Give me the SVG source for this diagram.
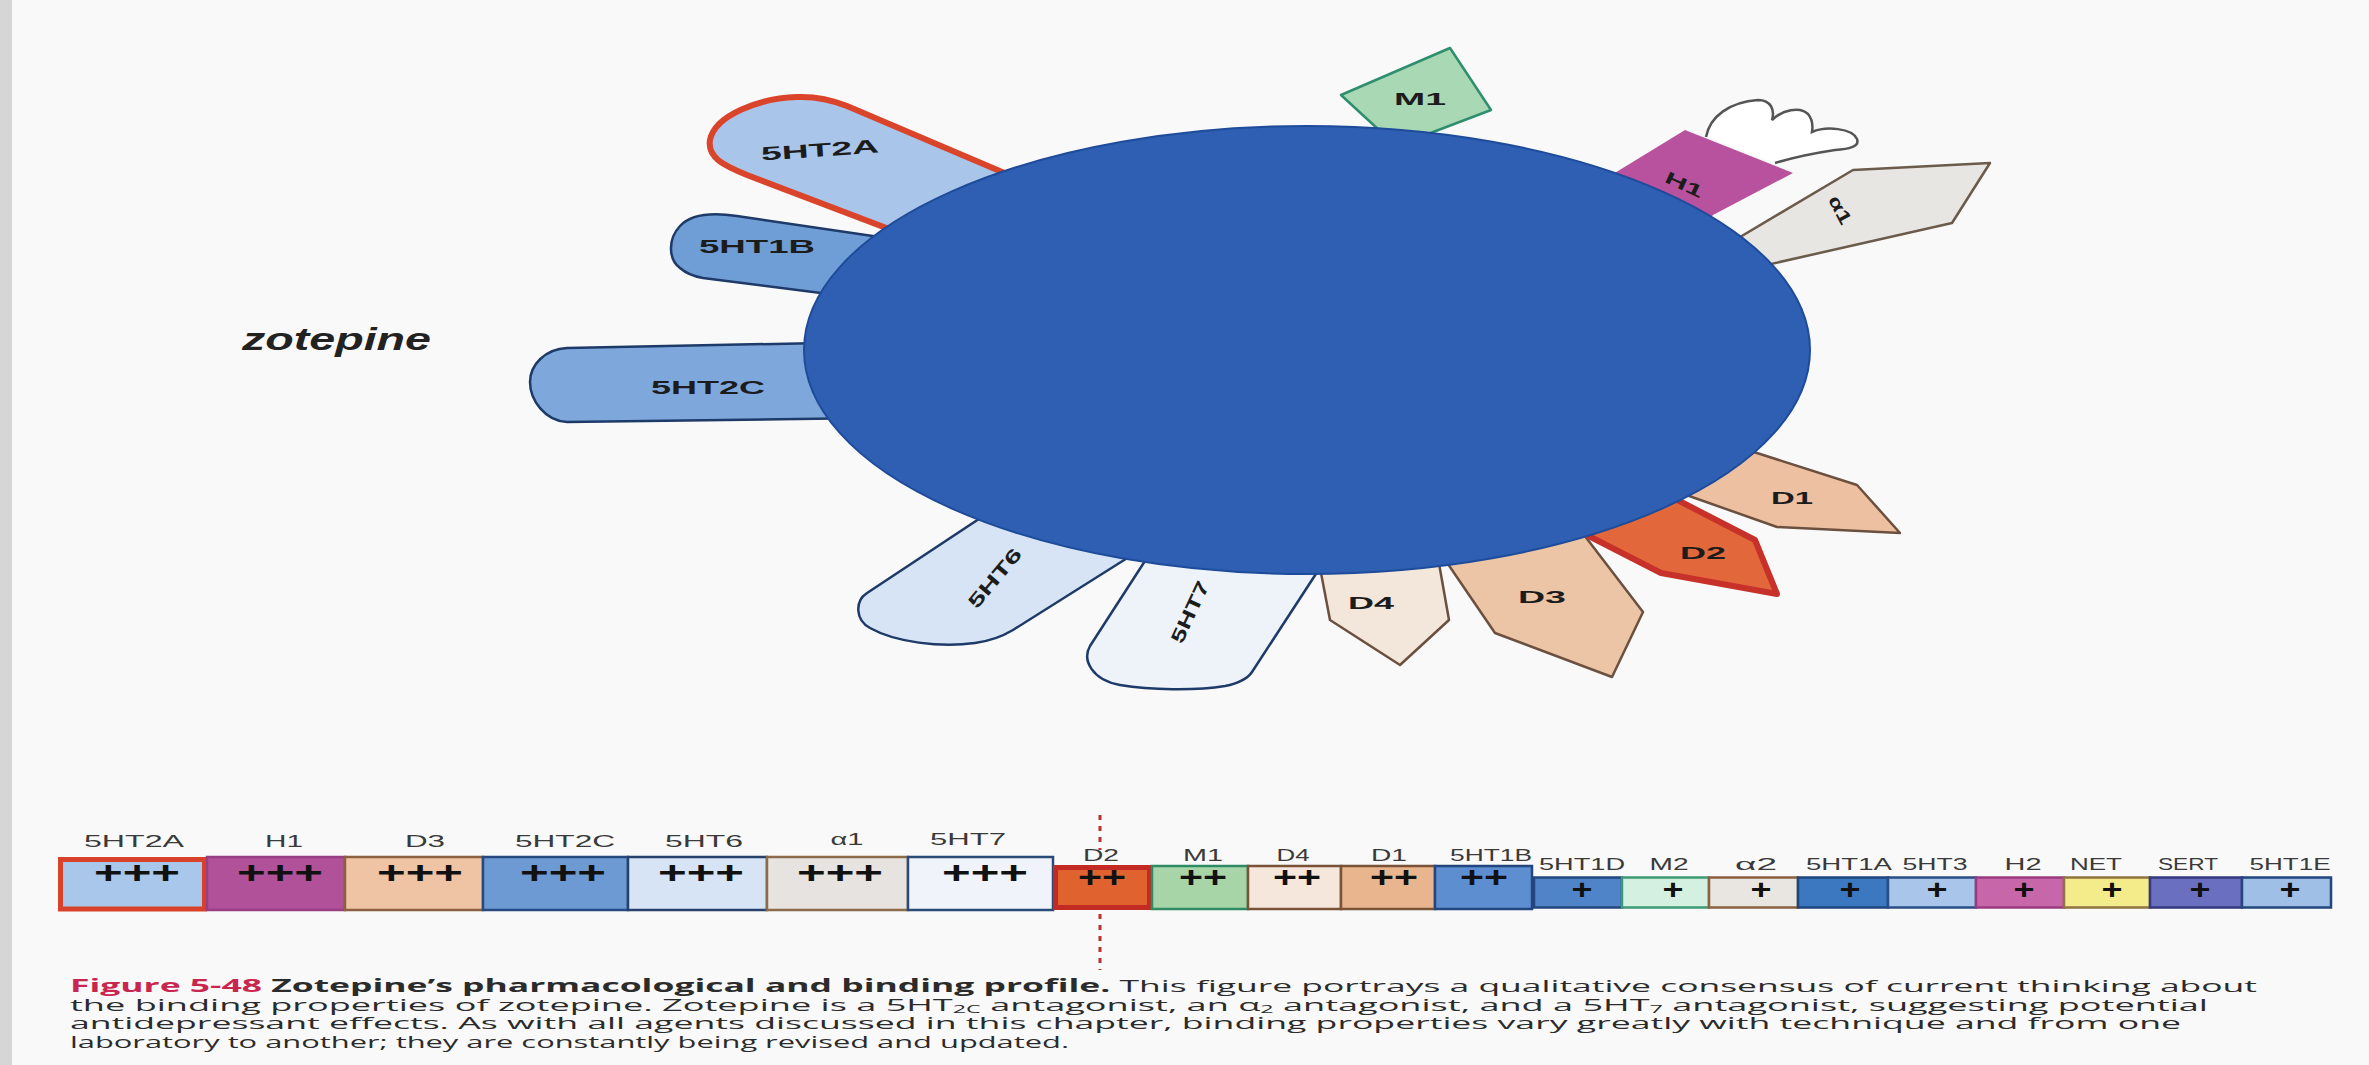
<svg xmlns="http://www.w3.org/2000/svg" width="2369" height="1065" viewBox="0 0 2369 1065">
  <style>
    .lab { font-family: "Liberation Sans", Arial, sans-serif; font-weight: bold; fill: #1c1c1c; dominant-baseline: central; text-anchor: middle; }
    .tl { font-family: "Liberation Sans", Arial, sans-serif; font-size: 16px; fill: #3a3a3a; text-anchor: middle; }
    .p3 { font-family: "Liberation Sans", Arial, sans-serif; font-weight: bold; font-size: 32px; fill: #111; text-anchor: middle; }
    .p2 { font-family: "Liberation Sans", Arial, sans-serif; font-weight: bold; font-size: 29px; fill: #111; text-anchor: middle; }
    .p1 { font-family: "Liberation Sans", Arial, sans-serif; font-weight: bold; font-size: 27px; fill: #111; text-anchor: middle; }
    .cap { font-family: "Open Sans", "Liberation Sans", sans-serif; font-size: 17px; fill: #2b2b2b; }
    .sub { font-size: 11px; }
    .brown { stroke: #6b5040; stroke-width: 2.5; stroke-linejoin: round; }
    .navy { stroke: #1e3a68; stroke-width: 2.5; stroke-linejoin: round; }
    .cell { stroke-width: 2.5; }
  </style>

  <!-- page -->
  <rect x="0" y="0" width="2369" height="1065" fill="#f9f9f9"/>
  <rect x="0" y="0" width="12" height="1065" fill="#d6d6d6"/>

  <!-- receptor shapes around the drug body -->
  <g id="node-5HT2A">
    <path d="M 1080 205 L 847 106 Q 822 96 797 97 C 760 98 715 115 710 140 C 707 158 725 166 747 175 L 960 256 Z" fill="#a9c6ea" stroke="#d9442b" stroke-width="6" stroke-linejoin="round"/>
    <text class="lab" font-size="19" textLength="118" lengthAdjust="spacingAndGlyphs" transform="translate(820 150) rotate(-4)">5HT2A</text>
  </g>
  <g id="node-5HT1B">
    <path class="navy" d="M 900 240 L 737 216 C 710 212 690 215 680 226 C 667 240 669 260 680 268 C 688 275 697 277 703 278 L 860 298 Z" fill="#6f9dd6"/>
    <text class="lab" font-size="19" textLength="116" lengthAdjust="spacingAndGlyphs" x="757" y="246">5HT1B</text>
  </g>
  <g id="node-5HT2C">
    <path class="navy" d="M 870 342 L 567 348 C 545 349 530 365 530 382 C 530 400 545 421 567 422 L 870 418 Z" fill="#7ea8dc"/>
    <text class="lab" font-size="19" textLength="114" lengthAdjust="spacingAndGlyphs" x="708" y="387">5HT2C</text>
  </g>
  <g id="node-5HT6">
    <path class="navy" d="M 1000 505 L 866.7 593.3 C 855 601 855 620 870 628 C 895 642 940 648 975 643 C 990 641 1003 636 1013 630 L 1140 550 Z" fill="#d6e4f6"/>
    <text class="lab" font-size="19" textLength="72" lengthAdjust="spacingAndGlyphs" transform="translate(995 578) rotate(-50)">5HT6</text>
  </g>
  <g id="node-5HT7">
    <path class="navy" d="M 1165 530 L 1090 646 C 1082 660 1092 680 1120 685 C 1150 690 1195 691 1225 686 C 1240 683 1248 678 1252 672 L 1325 560 Z" fill="#eef3fa"/>
    <text class="lab" font-size="19" textLength="66" lengthAdjust="spacingAndGlyphs" transform="translate(1190 612) rotate(-65)">5HT7</text>
  </g>
  <g id="node-D4">
    <path class="brown" d="M 1317 552 L 1330 620 L 1400 665 L 1449 620 L 1437 552 Z" fill="#f3e6da"/>
    <text class="lab" font-size="17" textLength="46" lengthAdjust="spacingAndGlyphs" x="1371" y="603">D4</text>
  </g>
  <g id="node-D3">
    <path class="brown" d="M 1435 545 L 1495 633 L 1612 677 L 1643 612 L 1578 527 Z" fill="#ebc5a5"/>
    <text class="lab" font-size="17" textLength="48" lengthAdjust="spacingAndGlyphs" x="1542" y="597">D3</text>
  </g>
  <g id="node-D2">
    <path d="M 1575 529 L 1661 573 L 1777 594 L 1755 540 L 1660 491 Z" fill="#e2673b" stroke="#c8302a" stroke-width="6" stroke-linejoin="round"/>
    <text class="lab" font-size="17" textLength="46" lengthAdjust="spacingAndGlyphs" x="1703" y="553">D2</text>
  </g>
  <g id="node-D1">
    <path class="brown" d="M 1675 491 L 1777 527 L 1900 533 L 1857 485 L 1735 446 Z" fill="#ecc0a0"/>
    <text class="lab" font-size="17" textLength="42" lengthAdjust="spacingAndGlyphs" x="1792" y="498">D1</text>
  </g>
  <g id="node-M1">
    <path d="M 1341 95 L 1450 48 L 1491 110 L 1420 137 L 1392 142 Z" fill="#a9d9b4" stroke="#2f8e6e" stroke-width="2.5" stroke-linejoin="round"/>
    <text class="lab" font-size="17" textLength="52" lengthAdjust="spacingAndGlyphs" x="1420" y="99">M1</text>
  </g>
  <g id="node-H1">
    <!-- histamine ligand drawn as an open glove outline -->
    <path d="M 1706 137 C 1710 116 1730 102 1758 100 C 1771 100 1775 110 1772 120 C 1782 110 1800 106 1808 114 C 1813 120 1813 126 1812 132 C 1826 126 1852 128 1857 139 C 1860 147 1848 149 1835 150 C 1815 153 1795 157 1775 163" fill="#ffffff" stroke="#555555" stroke-width="2.5"/>
    <path d="M 1600 182 L 1685 130 L 1793 173 L 1713 215 L 1700 230 Z" fill="#b8529e"/>
    <text class="lab" font-size="17" textLength="40" lengthAdjust="spacingAndGlyphs" transform="translate(1684 185) rotate(25)">H1</text>
  </g>
  <g id="node-alpha1">
    <path d="M 1730 243 L 1853 170 L 1990 163 L 1952 223 L 1762 266 Z" fill="#e8e6e3" stroke="#6b5b4b" stroke-width="2.5" stroke-linejoin="round"/>
    <text class="lab" font-size="18" textLength="30" lengthAdjust="spacingAndGlyphs" transform="translate(1840 210) rotate(62)">α1</text>
  </g>

  <!-- drug body -->
  <g id="node-zotepine-body">
    <ellipse cx="1307" cy="350" rx="503" ry="224" fill="#2f5fb3" stroke="#1e4c9a" stroke-width="2"/>
  </g>

  <g id="node-title">
    <text x="242" y="350" textLength="189" lengthAdjust="spacingAndGlyphs" font-family="Liberation Sans, Arial, sans-serif" font-weight="bold" font-style="italic" font-size="32" fill="#222">zotepine</text>
  </g>

  <!-- divider between the +++ and ++ groups -->
  <g id="connectors">
    <line x1="1100" y1="815" x2="1100" y2="850" stroke="#b8312f" stroke-width="3" stroke-dasharray="5 6"/>
    <line x1="1100" y1="914" x2="1100" y2="970" stroke="#b8312f" stroke-width="3" stroke-dasharray="5 6"/>
  </g>

  <!-- binding strength table -->
  <g id="binding-table">
    <g id="cell-5HT2A">
      <rect x="60.5" y="859.5" width="144" height="49.5" fill="#a9c7ea" stroke="#d8422a" stroke-width="5"/>
      <text class="tl" x="134" y="847" textLength="100" lengthAdjust="spacingAndGlyphs">5HT2A</text>
      <text class="p3" x="137" y="883" textLength="86" lengthAdjust="spacingAndGlyphs">+++</text>
    </g>
    <g id="cell-H1">
      <rect class="cell" x="207" y="857" width="138" height="53" fill="#b0519a" stroke="#983f84"/>
      <text class="tl" x="284" y="847" textLength="38" lengthAdjust="spacingAndGlyphs">H1</text>
      <text class="p3" x="280" y="883" textLength="86" lengthAdjust="spacingAndGlyphs">+++</text>
    </g>
    <g id="cell-D3">
      <rect class="cell" x="345" y="857" width="138" height="53" fill="#efc4a4" stroke="#8a6040"/>
      <text class="tl" x="425" y="847" textLength="40" lengthAdjust="spacingAndGlyphs">D3</text>
      <text class="p3" x="420" y="883" textLength="86" lengthAdjust="spacingAndGlyphs">+++</text>
    </g>
    <g id="cell-5HT2C">
      <rect class="cell" x="483" y="857" width="145" height="53" fill="#6e9ad3" stroke="#264a80"/>
      <text class="tl" x="565" y="847" textLength="100" lengthAdjust="spacingAndGlyphs">5HT2C</text>
      <text class="p3" x="563" y="883" textLength="86" lengthAdjust="spacingAndGlyphs">+++</text>
    </g>
    <g id="cell-5HT6">
      <rect class="cell" x="628" y="857" width="139" height="53" fill="#d6e4f6" stroke="#26416b"/>
      <text class="tl" x="704" y="847" textLength="78" lengthAdjust="spacingAndGlyphs">5HT6</text>
      <text class="p3" x="701" y="883" textLength="86" lengthAdjust="spacingAndGlyphs">+++</text>
    </g>
    <g id="cell-alpha1">
      <rect class="cell" x="767" y="857" width="141" height="53" fill="#e6e3e0" stroke="#8b6b4b"/>
      <text class="tl" x="847" y="845" textLength="33" lengthAdjust="spacingAndGlyphs">α1</text>
      <text class="p3" x="840" y="883" textLength="86" lengthAdjust="spacingAndGlyphs">+++</text>
    </g>
    <g id="cell-5HT7">
      <rect class="cell" x="908" y="857" width="145" height="53" fill="#f0f4fa" stroke="#2a4a78"/>
      <text class="tl" x="968" y="845" textLength="76" lengthAdjust="spacingAndGlyphs">5HT7</text>
      <text class="p3" x="985" y="883" textLength="86" lengthAdjust="spacingAndGlyphs">+++</text>
    </g>

    <g id="cell-D2">
      <rect x="1055.5" y="867.5" width="94" height="40" fill="#e0622f" stroke="#c32a23" stroke-width="5"/>
      <text class="tl" x="1101" y="861" textLength="36" lengthAdjust="spacingAndGlyphs">D2</text>
      <text class="p2" x="1102" y="887" textLength="48" lengthAdjust="spacingAndGlyphs">++</text>
    </g>
    <g id="cell-M1">
      <rect class="cell" x="1152" y="866" width="96" height="43" fill="#a7d5a8" stroke="#2e8b66"/>
      <text class="tl" x="1203" y="861" textLength="40" lengthAdjust="spacingAndGlyphs">M1</text>
      <text class="p2" x="1203" y="887" textLength="48" lengthAdjust="spacingAndGlyphs">++</text>
    </g>
    <g id="cell-D4">
      <rect class="cell" x="1248" y="866" width="93" height="43" fill="#f5e7dc" stroke="#7a5238"/>
      <text class="tl" x="1293" y="861" textLength="33" lengthAdjust="spacingAndGlyphs">D4</text>
      <text class="p2" x="1297" y="887" textLength="48" lengthAdjust="spacingAndGlyphs">++</text>
    </g>
    <g id="cell-D1">
      <rect class="cell" x="1341" y="866" width="94" height="43" fill="#e9b58e" stroke="#7a5238"/>
      <text class="tl" x="1389" y="861" textLength="36" lengthAdjust="spacingAndGlyphs">D1</text>
      <text class="p2" x="1394" y="887" textLength="48" lengthAdjust="spacingAndGlyphs">++</text>
    </g>
    <g id="cell-5HT1B">
      <rect class="cell" x="1435" y="866" width="97" height="43" fill="#5d8ed0" stroke="#22467d"/>
      <text class="tl" x="1491" y="861" textLength="82" lengthAdjust="spacingAndGlyphs">5HT1B</text>
      <text class="p2" x="1484" y="887" textLength="48" lengthAdjust="spacingAndGlyphs">++</text>
    </g>

    <g id="cell-5HT1D">
      <rect class="cell" x="1534" y="877.5" width="88" height="30" fill="#4f84c9" stroke="#22467d"/>
      <text class="tl" x="1582" y="870" textLength="86" lengthAdjust="spacingAndGlyphs">5HT1D</text>
      <text class="p1" x="1582" y="899" textLength="21" lengthAdjust="spacingAndGlyphs">+</text>
    </g>
    <g id="cell-M2">
      <rect class="cell" x="1622" y="877.5" width="87" height="30" fill="#d4f0e0" stroke="#3c9a74"/>
      <text class="tl" x="1669" y="870" textLength="39" lengthAdjust="spacingAndGlyphs">M2</text>
      <text class="p1" x="1673" y="899" textLength="21" lengthAdjust="spacingAndGlyphs">+</text>
    </g>
    <g id="cell-alpha2">
      <rect class="cell" x="1709" y="877.5" width="89" height="30" fill="#e9e5e1" stroke="#8a6040"/>
      <text class="tl" x="1756" y="870" textLength="42" lengthAdjust="spacingAndGlyphs">α2</text>
      <text class="p1" x="1761" y="899" textLength="21" lengthAdjust="spacingAndGlyphs">+</text>
    </g>
    <g id="cell-5HT1A">
      <rect class="cell" x="1798" y="877.5" width="90" height="30" fill="#3c78c0" stroke="#1f467e"/>
      <text class="tl" x="1849" y="870" textLength="86" lengthAdjust="spacingAndGlyphs">5HT1A</text>
      <text class="p1" x="1850" y="899" textLength="21" lengthAdjust="spacingAndGlyphs">+</text>
    </g>
    <g id="cell-5HT3">
      <rect class="cell" x="1888" y="877.5" width="88" height="30" fill="#a9c5ea" stroke="#2a4e84"/>
      <text class="tl" x="1935" y="870" textLength="65" lengthAdjust="spacingAndGlyphs">5HT3</text>
      <text class="p1" x="1937" y="899" textLength="21" lengthAdjust="spacingAndGlyphs">+</text>
    </g>
    <g id="cell-H2">
      <rect class="cell" x="1976" y="877.5" width="88" height="30" fill="#c766a8" stroke="#9c3c80"/>
      <text class="tl" x="2023" y="870" textLength="37" lengthAdjust="spacingAndGlyphs">H2</text>
      <text class="p1" x="2024" y="899" textLength="21" lengthAdjust="spacingAndGlyphs">+</text>
    </g>
    <g id="cell-NET">
      <rect class="cell" x="2064" y="877.5" width="86" height="30" fill="#f4ec8a" stroke="#8e7440"/>
      <text class="tl" x="2096" y="870" textLength="52" lengthAdjust="spacingAndGlyphs">NET</text>
      <text class="p1" x="2112" y="899" textLength="21" lengthAdjust="spacingAndGlyphs">+</text>
    </g>
    <g id="cell-SERT">
      <rect class="cell" x="2150" y="877.5" width="92" height="30" fill="#6a6fbf" stroke="#35397f"/>
      <text class="tl" x="2188" y="870" textLength="60" lengthAdjust="spacingAndGlyphs">SERT</text>
      <text class="p1" x="2200" y="899" textLength="21" lengthAdjust="spacingAndGlyphs">+</text>
    </g>
    <g id="cell-5HT1E">
      <rect class="cell" x="2242" y="877.5" width="89" height="30" fill="#a0bfe6" stroke="#22467d"/>
      <text class="tl" x="2290" y="870" textLength="81" lengthAdjust="spacingAndGlyphs">5HT1E</text>
      <text class="p1" x="2290" y="899" textLength="21" lengthAdjust="spacingAndGlyphs">+</text>
    </g>
  </g>

  <!-- caption -->
  <g id="caption">
    <text class="cap" x="70" y="992" textLength="2187" lengthAdjust="spacingAndGlyphs"><tspan font-weight="bold" fill="#c8254f">Figure 5-48</tspan><tspan font-weight="bold"> Zotepine’s pharmacological and binding profile.</tspan> This figure portrays a qualitative consensus of current thinking about</text>
    <text class="cap" x="70" y="1010.5" textLength="2138" lengthAdjust="spacingAndGlyphs">the binding properties of zotepine. Zotepine is a 5HT<tspan class="sub" dy="2">2C</tspan><tspan dy="-2"> antagonist, an α</tspan><tspan class="sub" dy="2">2</tspan><tspan dy="-2"> antagonist, and a 5HT</tspan><tspan class="sub" dy="2">7</tspan><tspan dy="-2"> antagonist, suggesting potential</tspan></text>
    <text class="cap" x="70" y="1029" textLength="2111" lengthAdjust="spacingAndGlyphs">antidepressant effects. As with all agents discussed in this chapter, binding properties vary greatly with technique and from one</text>
    <text class="cap" x="70" y="1047.5" textLength="999" lengthAdjust="spacingAndGlyphs">laboratory to another; they are constantly being revised and updated.</text>
  </g>
</svg>
